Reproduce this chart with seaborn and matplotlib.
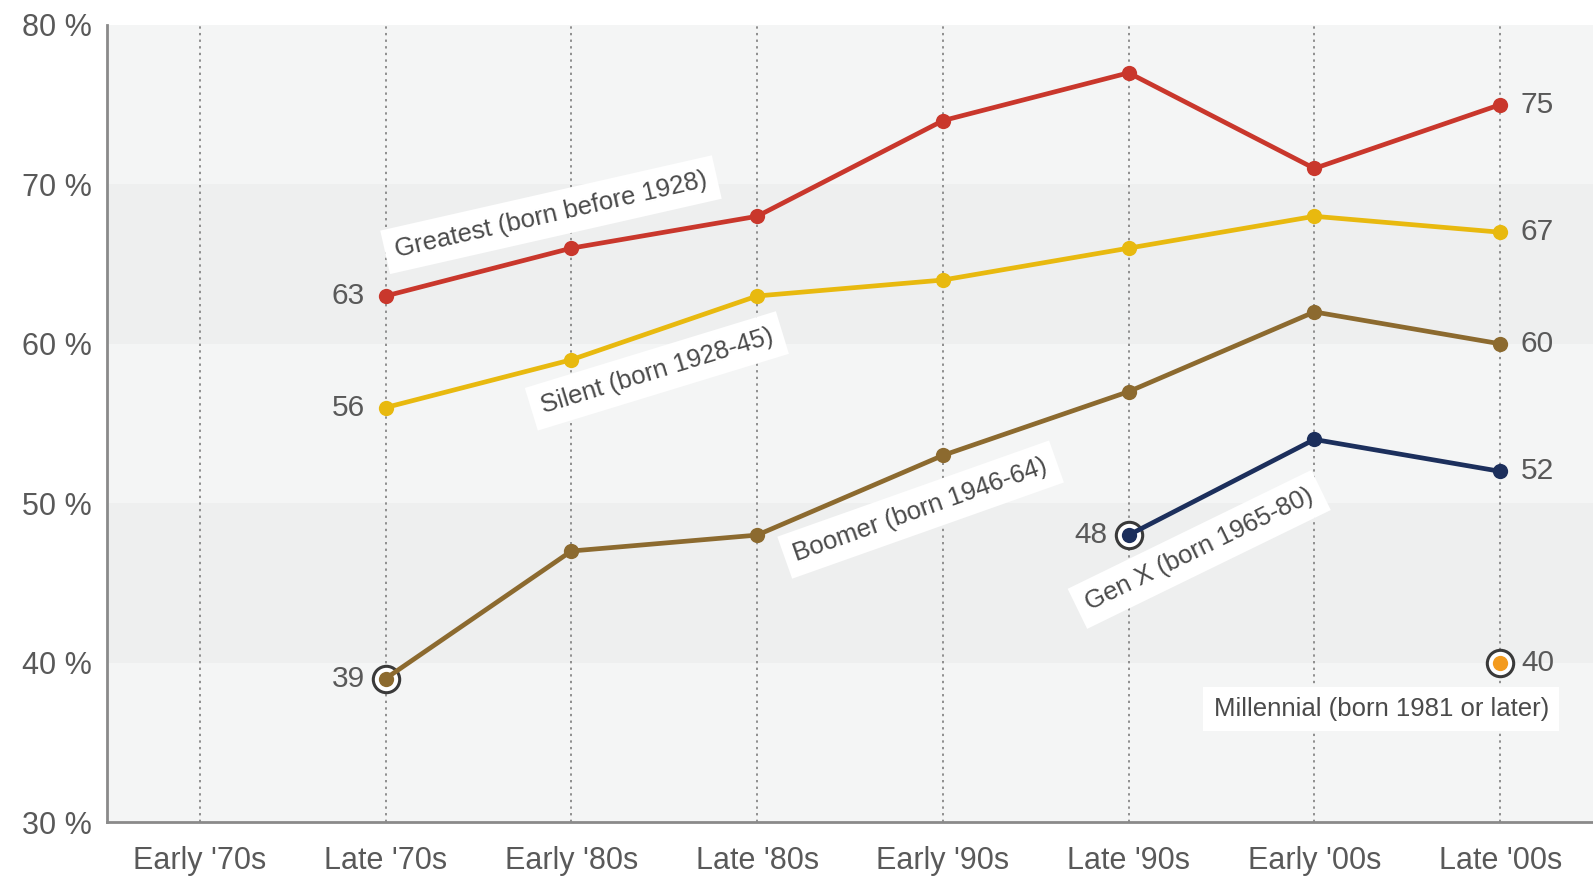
import pandas as pd
import matplotlib.pyplot as plt
import seaborn as sns

# periods on the x axis
periods = ["Early '70s", "Late '70s", "Early '80s", "Late '80s",
           "Early '90s", "Late '90s", "Early '00s", "Late '00s"]

generations = ["Greatest", "Silent", "Boomer", "Gen X", "Millennial"]
gen_labels = ["Greatest (born before 1928)", "Silent (born 1928-45)",
              "Boomer (born 1946-64)", "Gen X (born 1965-80)",
              "Millennial (born 1981 or later)"]

# values (%) run up to Late '00s; each series starts where its data begins
greatest = [63, 66, 68, 74, 77, 71, 75]
silent = [56, 59, 63, 64, 66, 68, 67]
boomer = [39, 47, 48, 53, 57, 62, 60]
genx = [48, 54, 52]
millennial = [40]

colors = ["#c9372c", "#e8b90f", "#8c6a2f", "#1c2f5c", "#f39b1f"]
ringed = ["Boomer", "Gen X", "Millennial"]

rows = []
for gen, vals in zip(generations, [greatest, silent, boomer, genx, millennial]):
    start = len(periods) - len(vals)
    for i, v in enumerate(vals):
        rows.append({"generation": gen, "pos": start + i,
                     "period": periods[start + i], "pct": v})
df = pd.DataFrame(rows)

sns.set_style("white")
plt.rcParams['font.family'] = ['Liberation Sans', 'DejaVu Sans']
text_col = "#595959"

fig = plt.figure(figsize=(15.93, 8.77), dpi=100)
ax = fig.add_axes([0.0672, 0.0627, 0.9328, 0.9088])
ax.set_facecolor("#f4f5f5")
for lo in [40, 60]:
    ax.axhspan(lo, lo + 10, color="#eeefef", zorder=0, lw=0)

# vertical dotted guides
for i in range(len(periods)):
    ax.axvline(i, color="#8f8f8f", ls=(0, (1.2, 2.2)), lw=1.4, zorder=1)

# rings around the first point of newer generations
first = df.groupby("generation").first().reset_index()
ring_pts = first[first["generation"].isin(ringed)]
ax.scatter(ring_pts["pos"], ring_pts["pct"], s=19 ** 2, facecolor="white",
           edgecolor="#3a3a3a", linewidth=2.2, zorder=2)

sns.lineplot(data=df, x="pos", y="pct", hue="generation",
             hue_order=generations, palette=colors, marker="o",
             markersize=11, markeredgewidth=0, linewidth=3.4,
             legend=False, ax=ax, zorder=3)

# value labels at start and end of each line
for gen in generations:
    sub = df[df["generation"] == gen]
    if len(sub) > 1:
        r = sub.iloc[0]
        ax.annotate(str(r["pct"]), (r["pos"], r["pct"]), xytext=(-15, 0),
                    textcoords="offset points", ha="right", va="center",
                    fontsize=21.5, color=text_col)
    r = sub.iloc[-1]
    ax.annotate(str(r["pct"]), (r["pos"], r["pct"]), xytext=(15, 0),
                textcoords="offset points", ha="left", va="center",
                fontsize=21.5, color=text_col)

# series name tags
tags = [(1.89, 68.1, 12.8), (2.46, 58.3, 17.0), (3.88, 49.6, 19.5),
        (5.38, 47.1, 26.0), (6.36, 37.1, 0)]
for label, (tx, ty, rot) in zip(gen_labels, tags):
    ax.text(tx, ty, label, rotation=rot, rotation_mode="anchor",
            ha="center", va="center", fontsize=18.5, color="#4a4a4a", zorder=4,
            bbox=dict(boxstyle="square,pad=0.4", fc="white", ec="none"))

ax.set_xlim(-0.5, 7.5)
ax.set_ylim(30, 80)
ax.set_xticks(range(len(periods)))
ax.set_xticklabels(periods)
ax.set_yticks(range(30, 81, 10))
ax.set_yticklabels([f"{v} %" for v in range(30, 81, 10)])
ax.tick_params(axis="both", length=0, labelsize=22, colors=text_col)
ax.tick_params(axis="x", pad=17)
ax.tick_params(axis="y", pad=11)
ax.set_xlabel("")
ax.set_ylabel("")
for side in ["top", "right"]:
    ax.spines[side].set_visible(False)
for side in ["left", "bottom"]:
    ax.spines[side].set_color("#8a8a8a")
    ax.spines[side].set_linewidth(2)

fig.savefig("out.png", dpi=100)
